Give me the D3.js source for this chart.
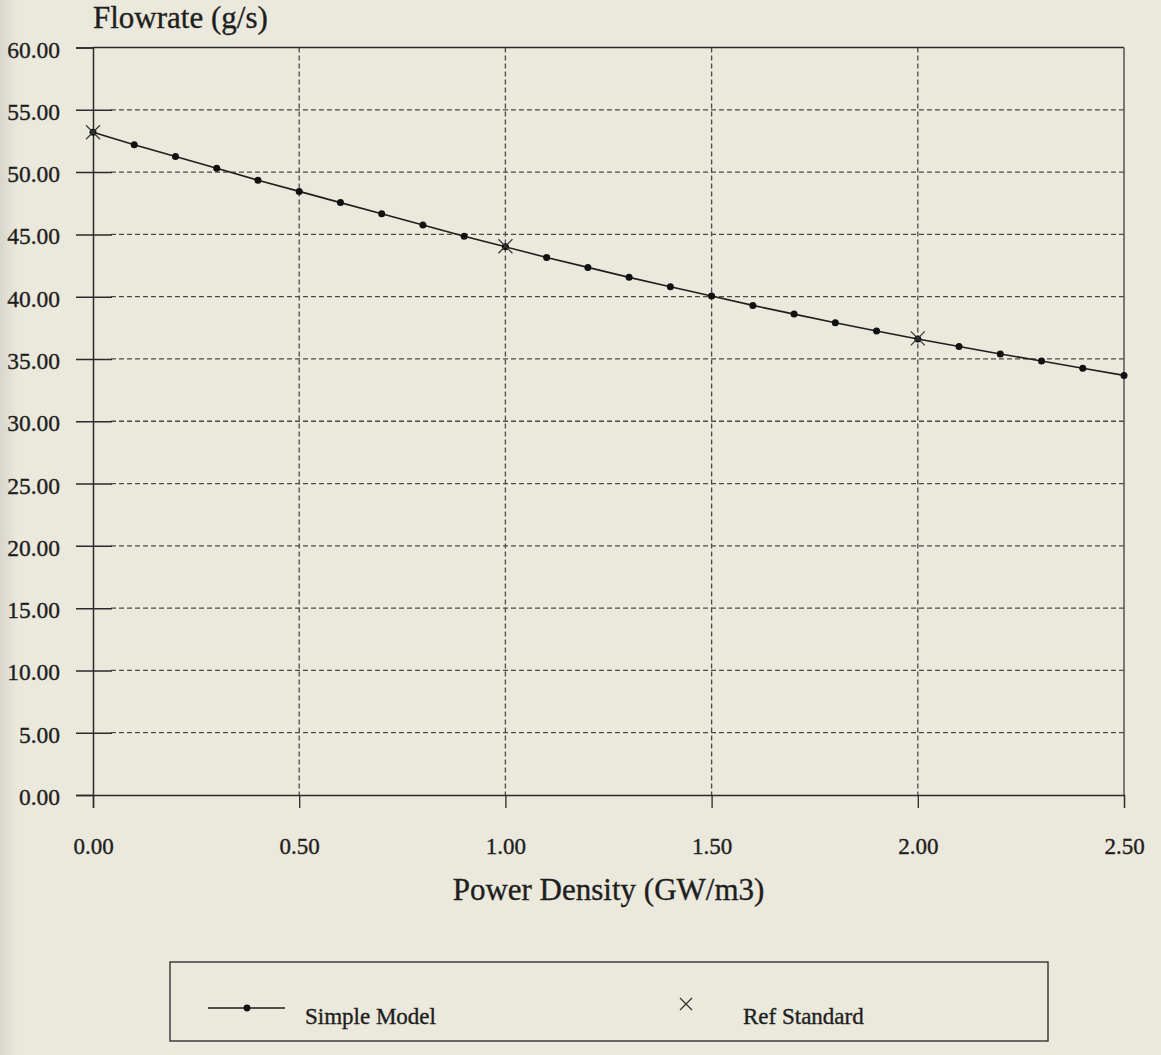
<!DOCTYPE html>
<html>
<head>
<meta charset="utf-8">
<script src="https://cdn.jsdelivr.net/npm/d3@7"></script>
<style>
  html, body { margin: 0; padding: 0; background: #ebe8dc; }
  svg { display: block; }
  text { font-family: "Liberation Serif", "Times New Roman", serif; fill: #1e1e1e;
         stroke: #1e1e1e; stroke-width: 0.35px; }
</style>
</head>
<body>
<script>
// Power density (GW/m3) at which the simple model was evaluated
const powerDensity = [0.0, 0.1, 0.2, 0.3, 0.4, 0.5, 0.6, 0.7, 0.8, 0.9,
                      1.0, 1.1, 1.2, 1.3, 1.4, 1.5, 1.6, 1.7, 1.8, 1.9,
                      2.0, 2.1, 2.2, 2.3, 2.4, 2.5];
// Simple model flowrate (g/s)
const simpleModel = [53.20, 52.20, 51.25, 50.30, 49.35, 48.45, 47.55, 46.65, 45.75, 44.85,
                     44.00, 43.15, 42.35, 41.55, 40.80, 40.05, 39.30, 38.60, 37.90, 37.25,
                     36.60, 36.00, 35.40, 34.83, 34.25, 33.68];
// Reference standard points
const refPower = [0.0, 1.0, 2.0];
const refFlow = [53.20, 44.05, 36.65];

const xTicks = [0, 0.5, 1.0, 1.5, 2.0, 2.5];
const yTicks = [0, 5, 10, 15, 20, 25, 30, 35, 40, 45, 50, 55, 60];

const W = 1161, H = 1055;
const plot = { left: 93, right: 1124, top: 47.5, bottom: 795 };

const svg = d3.select("body").append("svg").attr("width", W).attr("height", H);

// faint shading at the left edge of the sheet
const defs = svg.append("defs");
const grad = defs.append("linearGradient").attr("id", "edge").attr("x1", 0).attr("x2", 1);
grad.append("stop").attr("offset", 0).attr("stop-color", "#d9d7cd");
grad.append("stop").attr("offset", 1).attr("stop-color", "#ebe8dc");
svg.append("rect").attr("width", W).attr("height", H).attr("fill", "#ebe8dc");
svg.append("rect").attr("width", 18).attr("height", H).attr("fill", "url(#edge)");

const x = d3.scaleLinear().domain([0, 2.5]).range([plot.left, plot.right]);
const y = d3.scaleLinear().domain([0, 60]).range([plot.bottom, plot.top]);

const ink = "#2a2a2a";
const gridInk = "#4a4a4a";

// dashed grid
const grid = svg.append("g");
grid.selectAll("line.h").data(yTicks.filter(v => v > 0 && v < 60)).join("line")
  .attr("x1", plot.left + 18).attr("x2", plot.right)
  .attr("y1", d => y(d)).attr("y2", d => y(d))
  .attr("stroke", gridInk).attr("stroke-width", 1.3).attr("stroke-dasharray", "5,3");
grid.selectAll("line.v").data(xTicks.filter(v => v > 0 && v < 2.5)).join("line")
  .attr("x1", d => x(d)).attr("x2", d => x(d))
  .attr("y1", plot.top).attr("y2", plot.bottom)
  .attr("stroke", gridInk).attr("stroke-width", 1.3).attr("stroke-dasharray", "5,3");

// frame top and right
svg.append("line").attr("x1", plot.left).attr("x2", plot.right)
  .attr("y1", plot.top).attr("y2", plot.top).attr("stroke", ink).attr("stroke-width", 1.5);
svg.append("line").attr("x1", plot.right).attr("x2", plot.right)
  .attr("y1", plot.top).attr("y2", plot.bottom).attr("stroke", "#555").attr("stroke-width", 1.5);

// y axis
const yAxis = svg.append("g").attr("transform", `translate(${plot.left},0)`)
  .call(d3.axisLeft(y).tickValues(yTicks).tickFormat(d3.format(".2f"))
        .tickSize(17).tickPadding(16));
yAxis.select(".domain").attr("stroke", ink).attr("stroke-width", 1.5);
yAxis.selectAll(".tick line").attr("x2", d => (d === 0 || d === 60) ? 0 : 19)
  .attr("x1", -17).attr("stroke", ink).attr("stroke-width", 1.5);
yAxis.selectAll(".tick text").attr("dy", null).attr("y", 9.5)
  .style("font-size", "23.5px").style("font-family", "'Liberation Serif', serif").attr("fill", "#1e1e1e");

// x axis
const xAxis = svg.append("g").attr("transform", `translate(0,${plot.bottom})`)
  .call(d3.axisBottom(x).tickValues(xTicks).tickFormat(d3.format(".2f"))
        .tickSize(13).tickPadding(0));
xAxis.select(".domain").attr("stroke", ink).attr("stroke-width", 1.5);
xAxis.selectAll(".tick line").attr("stroke", ink).attr("stroke-width", 1.3)
  .attr("y2", d => d === 2.5 ? 0 : 13);
xAxis.selectAll(".tick text").attr("dy", null).attr("y", 59)
  .style("font-size", "23px").style("font-family", "'Liberation Serif', serif").attr("fill", "#1e1e1e");

// axis titles
svg.append("text").attr("x", plot.left).attr("y", 28)
  .style("font-size", "31px").text("Flowrate (g/s)");
svg.append("text").attr("x", (plot.left + plot.right) / 2).attr("y", 900)
  .attr("text-anchor", "middle").style("font-size", "31px").text("Power Density (GW/m3)");

// simple model line and points
const pts = powerDensity.map((p, i) => [p, simpleModel[i]]);
svg.append("path").datum(pts)
  .attr("d", d3.line().x(d => x(d[0])).y(d => y(d[1])))
  .attr("fill", "none").attr("stroke", "#1e1e1e").attr("stroke-width", 1.6);
svg.append("g").selectAll("circle").data(pts).join("circle")
  .attr("cx", d => x(d[0])).attr("cy", d => y(d[1])).attr("r", 3.5).attr("fill", "#111");

// reference standard crosses
const cross = (g, cx, cy, s) => {
  g.append("line").attr("x1", cx - s).attr("y1", cy - s).attr("x2", cx + s).attr("y2", cy + s);
  g.append("line").attr("x1", cx - s).attr("y1", cy + s).attr("x2", cx + s).attr("y2", cy - s);
};
const refG = svg.append("g").attr("stroke", "#3a3a3a").attr("stroke-width", 1.3);
refPower.forEach((p, i) => cross(refG, x(p), y(refFlow[i]), 7));

// legend
const lg = svg.append("g");
lg.append("rect").attr("x", 170).attr("y", 962).attr("width", 878).attr("height", 79)
  .attr("fill", "none").attr("stroke", "#333").attr("stroke-width", 1.4);
lg.append("line").attr("x1", 208).attr("x2", 285).attr("y1", 1008).attr("y2", 1008)
  .attr("stroke", "#1e1e1e").attr("stroke-width", 1.5);
lg.append("circle").attr("cx", 247).attr("cy", 1008).attr("r", 3.4).attr("fill", "#111");
lg.append("text").attr("x", 305).attr("y", 1024).style("font-size", "23px").text("Simple Model");
const lgc = lg.append("g").attr("stroke", "#333").attr("stroke-width", 1.2);
cross(lgc, 686, 1004, 6);
lg.append("text").attr("x", 743).attr("y", 1024).style("font-size", "23px").text("Ref Standard");
</script>
</body>
</html>
